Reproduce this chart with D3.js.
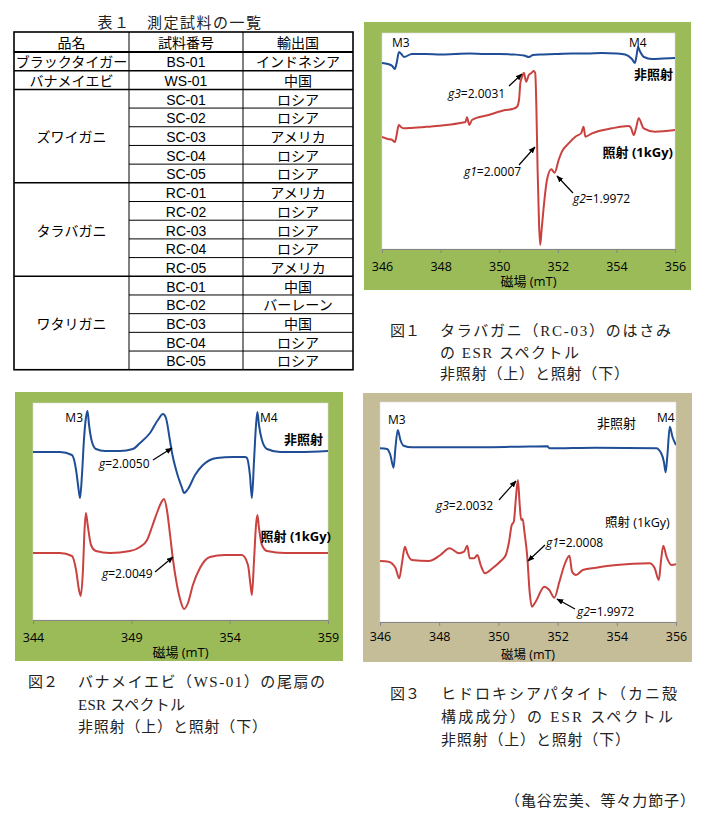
<!DOCTYPE html>
<html><head><meta charset="utf-8">
<script src="https://cdn.jsdelivr.net/npm/d3@7"></script>
<style>body{margin:0;background:#fff} svg{display:block}</style>
</head><body>
<svg id="c" width="705" height="815"></svg>
<script>
// ---------------- DATA ----------------
const tableTitle = "表１　測定試料の一覧";
const tableHeaders = ["品名", "試料番号", "輸出国"];
const productNames = ["ブラックタイガー", "バナメイエビ", "ズワイガニ", "タラバガニ", "ワタリガニ"];
const productRowSpans = [1, 1, 5, 5, 5];
const sampleIds = ["BS-01","WS-01","SC-01","SC-02","SC-03","SC-04","SC-05","RC-01","RC-02","RC-03","RC-04","RC-05","BC-01","BC-02","BC-03","BC-04","BC-05"];
const countries = ["インドネシア","中国","ロシア","ロシア","アメリカ","ロシア","ロシア","アメリカ","ロシア","ロシア","ロシア","アメリカ","中国","バーレーン","中国","ロシア","ロシア"];

// Fig.1 タラバガニ (RC-03) — [magnetic field mT, ESR signal a.u.]
const fig1Ticks = [346, 348, 350, 352, 354, 356];
const fig1Unirradiated = [[346.00,186],[346.20,185],[346.35,183],[346.44,180],[346.50,186],[346.58,197],[346.66,195],[346.75,192],[347.02,195],[347.50,195],[348.00,194.5],[348.50,195],[349.00,195.5],[349.50,195],[350.00,195],[350.50,194.5],[350.85,193.5],[351.02,192],[351.15,194],[351.50,194.5],[352.00,195],[352.50,195.5],[353.00,195.5],[353.50,196],[354.00,195.5],[354.30,194.5],[354.53,190],[354.63,186],[354.68,192],[354.74,202],[354.80,198],[354.94,192],[355.21,190],[355.60,190.5],[356.00,191]];
const fig1Irradiated = [[346.00,112],[346.20,110],[346.35,109],[346.44,107],[346.50,114],[346.57,124],[346.65,122],[346.74,120.7],[347.00,121],[347.59,122.3],[348.20,124],[348.73,126.3],[348.85,127],[348.90,131.7],[348.98,124],[349.07,129],[349.64,134],[350.21,139],[350.45,140],[350.61,142.3],[350.68,150],[350.72,165.7],[350.78,172],[350.84,176.3],[350.92,167.3],[351.01,174],[351.10,176],[351.18,178],[351.23,176],[351.27,140],[351.31,80],[351.36,25],[351.40,4],[351.45,20],[351.52,42.3],[351.63,69],[351.78,79.7],[351.89,76.3],[352.03,89],[352.14,97.3],[352.37,105.7],[352.60,112.3],[352.80,116],[352.88,122.3],[352.94,112.3],[353.17,115.7],[353.85,120.7],[354.42,123],[354.50,121],[354.59,114],[354.68,122],[354.76,130.7],[354.93,120.7],[355.32,117.3],[356.00,119]];

// Fig.2 バナメイエビ (WS-01)
const fig2Ticks = [344, 349, 354, 359];
const fig2Unirradiated = [[344.00,168],[345.37,168],[345.98,165],[346.19,150],[346.29,135],[346.39,122],[346.49,145],[346.59,180],[346.69,202],[346.77,209],[346.85,195],[347.00,178],[347.20,171],[347.66,169],[348.42,169],[349.08,171],[349.44,177],[349.95,187],[350.35,200],[350.61,206],[350.76,202],[350.96,180],[351.07,167],[351.32,147],[351.58,132],[351.68,127],[351.88,131],[352.24,145],[352.64,155],[353.35,162],[354.17,163],[354.78,163],[354.88,162],[355.03,145],[355.13,122],[355.24,160],[355.34,195],[355.41,208],[355.49,195],[355.64,180],[355.90,171],[356.56,168],[357.58,168],[359.00,169]];
const fig2Irradiated = [[344.00,67],[345.37,67],[345.98,64],[346.19,50],[346.34,30],[346.43,24],[346.54,50],[346.62,90],[346.69,107],[346.78,95],[346.95,75],[347.20,69],[347.91,67],[348.93,69],[349.44,73],[349.80,80],[350.05,93],[350.30,107],[350.51,117],[350.66,121],[350.81,110],[350.97,85],[351.12,60],[351.32,35],[351.52,18],[351.68,11],[351.88,17],[352.13,35],[352.49,52],[353.00,63],[353.76,65],[354.62,65],[354.93,55],[355.06,35],[355.13,25],[355.24,60],[355.34,95],[355.41,105],[355.49,92],[355.64,75],[355.90,69],[356.81,67],[359.00,67]];

// Fig.3 ヒドロキシアパタイト
const fig3Ticks = [346, 348, 350, 352, 354, 356];
const fig3Unirradiated = [[346.00,173.7],[346.24,173],[346.35,167],[346.46,154.3],[346.52,173.7],[346.60,192],[346.69,182],[346.80,176.3],[347.08,174.7],[348.78,174.7],[350.70,175.3],[351.66,175.7],[351.72,173.7],[353.30,174.3],[355.33,173.7],[355.50,168.7],[355.59,160.3],[355.65,149.7],[355.71,167],[355.79,195.3],[355.88,185.3],[356.00,177]];
const fig3Irradiated = [[346.00,61],[346.29,60.3],[346.52,54.3],[346.65,43.7],[346.75,60.3],[346.84,75.3],[346.92,68.7],[347.08,62],[347.65,61],[348.04,67],[348.35,73.7],[348.67,68.7],[348.84,70.3],[348.95,76.3],[349.03,63.7],[349.18,63.7],[349.29,67],[349.40,57],[349.55,48.7],[349.80,53.7],[350.08,61],[350.25,67],[350.36,80.3],[350.45,97],[350.52,100.3],[350.60,127],[350.66,142],[350.72,117],[350.77,102],[350.82,103],[350.88,90],[350.98,63.7],[351.05,32],[351.13,15.3],[351.26,20.3],[351.55,35.3],[351.72,32],[351.89,24.3],[352.06,40.3],[352.23,57],[352.40,66.3],[352.49,50.3],[352.62,47],[352.85,52],[353.30,54.3],[353.98,57],[355.11,58.7],[355.28,53.7],[355.42,42],[355.49,60.3],[355.57,76.3],[355.68,65.3],[355.85,57],[356.00,57.7]];

const axisTitle = "磁場 (mT)";
const fig1Caption = ["図１", "タラバガニ（RC-03）のはさみ", "の ESR スペクトル", "非照射（上）と照射（下）"];
const fig2Caption = ["図２", "バナメイエビ（WS-01）の尾扇の", "ESR スペクトル", "非照射（上）と照射（下）"];
const fig3Caption = ["図３", "ヒドロキシアパタイト（カニ殻", "構成成分）の ESR スペクトル", "非照射（上）と照射（下）"];
const credit = "（亀谷宏美、等々力節子）";

// ---------------- DRAW ----------------
const svg = d3.select("#c");
const SANS = "'Liberation Sans', 'Noto Sans CJK JP', sans-serif";
const CHART_FONT = "'Open Sans', 'Noto Sans CJK JP', sans-serif";
const SERIF = "'Liberation Serif', 'Noto Sans CJK JP', serif";
const BLUE = "#1f4e96", RED = "#c9423f";

const defs = svg.append("defs");
defs.append("marker").attr("id", "arrow").attr("viewBox", "0 0 10 10")
  .attr("refX", 9).attr("refY", 5).attr("markerWidth", 7).attr("markerHeight", 7)
  .attr("markerUnits", "userSpaceOnUse").attr("orient", "auto")
  .append("path").attr("d", "M0,1 L10,5 L0,9 Z").attr("fill", "#000");

// ---- Table ----
(function drawTable() {
  const colX = [14, 129, 243, 353];
  const top = 32, headH = 20, rowH = 18.69;
  const nRows = sampleIds.length;
  const bottom = top + headH + nRows * rowH;
  const g = svg.append("g");
  g.append("text").attr("x", 180).attr("y", 23).attr("text-anchor", "middle")
    .attr("dominant-baseline", "central").attr("font-family", SERIF).attr("font-size", 15)
    .attr("letter-spacing", 1.5).attr("fill", "#222").text(tableTitle);
  tableHeaders.forEach((h, i) => {
    g.append("text").attr("x", (colX[i] + colX[i + 1]) / 2).attr("y", top + headH / 2 + 1)
      .attr("text-anchor", "middle").attr("dominant-baseline", "central")
      .attr("font-family", SANS).attr("font-size", 14).text(h);
  });
  const rowY = i => top + headH + i * rowH;
  sampleIds.forEach((s, i) => {
    g.append("text").attr("x", (colX[1] + colX[2]) / 2).attr("y", rowY(i) + rowH / 2 + 1)
      .attr("text-anchor", "middle").attr("dominant-baseline", "central")
      .attr("font-family", SANS).attr("font-size", 14).text(s);
    g.append("text").attr("x", (colX[2] + colX[3]) / 2).attr("y", rowY(i) + rowH / 2 + 1)
      .attr("text-anchor", "middle").attr("dominant-baseline", "central")
      .attr("font-family", SANS).attr("font-size", 14).text(countries[i]);
  });
  let start = 0;
  const groupBounds = [];
  productNames.forEach((p, k) => {
    const span = productRowSpans[k];
    g.append("text").attr("x", (colX[0] + colX[1]) / 2).attr("y", rowY(start) + span * rowH / 2 + 1)
      .attr("text-anchor", "middle").attr("dominant-baseline", "central")
      .attr("font-family", SANS).attr("font-size", 14).text(p);
    start += span;
    groupBounds.push(start);
  });
  for (let i = 1; i < nRows; i++) {
    const full = groupBounds.includes(i);
    g.append("line").attr("x1", full ? colX[0] : colX[1]).attr("x2", colX[3])
      .attr("y1", rowY(i)).attr("y2", rowY(i)).attr("stroke", "#000")
      .attr("stroke-width", full ? 1.5 : 1);
  }
  g.append("line").attr("x1", colX[0]).attr("x2", colX[3]).attr("y1", top + headH).attr("y2", top + headH)
    .attr("stroke", "#000").attr("stroke-width", 2);
  [1, 2].forEach(c => g.append("line").attr("x1", colX[c]).attr("x2", colX[c]).attr("y1", top).attr("y2", bottom)
    .attr("stroke", "#000").attr("stroke-width", 1));
  g.append("rect").attr("x", colX[0]).attr("y", top).attr("width", colX[3] - colX[0]).attr("height", bottom - top)
    .attr("fill", "none").attr("stroke", "#000").attr("stroke-width", 1.6);
})();

// ---- Spectrum charts ----
let clipId = 0;
function drawSpectrum(o) {
  const g = svg.append("g");
  const [fl, ft, fr, fb] = o.frame;
  g.append("rect").attr("x", fl).attr("y", ft).attr("width", fr - fl).attr("height", fb - ft).attr("fill", o.frameColor);
  const [l, t, r, b] = o.plot;
  g.append("rect").attr("x", l).attr("y", t).attr("width", r - l).attr("height", b - t)
    .attr("fill", "#fff").attr("stroke", "#d9d9d9").attr("stroke-width", 0.6);
  const x = d3.scaleLinear().domain(o.xDomain).range([l, r]);
  const y = d3.scaleLinear().domain(o.yDomain).range([b, t]);
  const ax = g.append("g").attr("transform", `translate(0,${b})`)
    .call(d3.axisBottom(x).tickValues(o.ticks).tickSize(4).tickPadding(o.tickPad || 9).tickFormat(d3.format("d")));
  ax.select(".domain").attr("stroke", "#868686");
  ax.selectAll(".tick line").attr("stroke", "#868686");
  ax.selectAll(".tick text").attr("font-family", CHART_FONT).attr("font-size", 12.5).attr("fill", "#000");
  g.append("text").attr("x", (l + r) / 2).attr("y", o.titleY).attr("text-anchor", "middle")
    .attr("dominant-baseline", "central").attr("font-family", CHART_FONT).attr("font-size", o.titleSize || 13)
    .text(axisTitle);
  const id = "clip" + (clipId++);
  defs.append("clipPath").attr("id", id).append("rect").attr("x", l).attr("y", t - 10).attr("width", r - l).attr("height", b - t + 10);
  const line = d3.line().x(d => x(d[0])).y(d => y(d[1])).curve(d3.curveMonotoneX);
  const lg = g.append("g").attr("clip-path", `url(#${id})`);
  lg.append("path").datum(o.top).attr("d", line).attr("fill", "none").attr("stroke", BLUE).attr("stroke-width", 2).attr("stroke-linejoin", "round");
  lg.append("path").datum(o.bottom).attr("d", line).attr("fill", "none").attr("stroke", RED).attr("stroke-width", 2).attr("stroke-linejoin", "round");
  return g;
}

function label(g, parts, xx, yy, anchor, bold, size) {
  const t = g.append("text").attr("x", xx).attr("y", yy).attr("text-anchor", anchor || "start")
    .attr("dominant-baseline", "central").attr("font-family", CHART_FONT)
    .attr("font-size", size || 12).attr("font-weight", bold ? "bold" : "normal");
  (Array.isArray(parts) ? parts : [[parts, false]]).forEach(p => {
    t.append("tspan").attr("font-style", p[1] ? "italic" : "normal").text(p[0]);
  });
}
function arrow(g, x1, y1, x2, y2) {
  g.append("line").attr("x1", x1).attr("y1", y1).attr("x2", x2).attr("y2", y2)
    .attr("stroke", "#000").attr("stroke-width", 1.2).attr("marker-end", "url(#arrow)");
}

// Fig 1
const g1 = drawSpectrum({ frame: [364, 22, 691, 290], frameColor: "#9bbb59", plot: [382, 33, 675, 249],
  xDomain: [346, 356], yDomain: [0, 216], ticks: fig1Ticks, titleY: 281,
  top: fig1Unirradiated, bottom: fig1Irradiated });
label(g1, "M3", 392, 42);
label(g1, "M4", 629, 42);
label(g1, "非照射", 673, 74, "end", true, 13);
label(g1, [["g3", true], ["=2.0031", false]], 448, 93);
arrow(g1, 509, 86, 522, 74);
label(g1, "照射 (1kGy)", 673, 152, "end", true, 13);
label(g1, [["g1", true], ["=2.0007", false]], 464, 171);
arrow(g1, 519, 165, 535, 147);
label(g1, [["g2", true], ["=1.9972", false]], 573, 198);
arrow(g1, 573, 193, 557, 176);

// Fig 2
const g2 = drawSpectrum({ frame: [15, 392, 343, 661], frameColor: "#9bbb59", plot: [33, 403, 328, 620],
  xDomain: [344, 359], yDomain: [0, 217], ticks: fig2Ticks, titleY: 652,
  top: fig2Unirradiated, bottom: fig2Irradiated });
label(g2, "M3", 83, 417, "end");
label(g2, "M4", 260, 417);
label(g2, "非照射", 323, 439, "end", true, 13);
label(g2, [["g", true], ["=2.0050", false]], 99, 463);
arrow(g2, 153, 460, 172, 448);
label(g2, "照射 (1kGy)", 331, 536, "end", true, 13);
label(g2, [["g", true], ["=2.0049", false]], 102, 573);
arrow(g2, 155, 572, 173, 557);

// Fig 3
const g3 = drawSpectrum({ frame: [363, 393, 692, 662], frameColor: "#c4bd97", plot: [380, 402, 676, 622],
  xDomain: [346, 356], yDomain: [0, 220], ticks: fig3Ticks, titleY: 654.5, titleSize: 12.5, tickPad: 6,
  top: fig3Unirradiated, bottom: fig3Irradiated });
label(g3, "M3", 388, 419);
label(g3, "M4", 657, 417);
label(g3, "非照射", 597, 423, "start", false, 13);
label(g3, [["g3", true], ["=2.0032", false]], 436, 505);
arrow(g3, 499, 500, 516, 481);
label(g3, "照射 (1kGy)", 605, 522, "start", false, 12.5);
label(g3, [["g1", true], ["=2.0008", false]], 546, 542);
arrow(g3, 545, 545, 528, 561);
label(g3, [["g2", true], ["=1.9972", false]], 577, 611);
arrow(g3, 575, 609, 557, 599);

// ---- Captions ----
function caption(cap, numX, textX, ys, widths) {
  const g = svg.append("g").attr("font-family", SERIF).attr("font-size", 15).attr("fill", "#222");
  g.append("text").attr("x", numX).attr("y", ys[0]).attr("dominant-baseline", "central").text(cap[0]);
  for (let i = 1; i < cap.length; i++) {
    g.append("text").attr("x", textX).attr("y", ys[i - 1]).attr("dominant-baseline", "central")
      .attr("textLength", widths[i - 1]).attr("lengthAdjust", "spacing").text(cap[i]);
  }
}
caption(fig1Caption, 390, 440, [331, 353, 374], [231, 139, 189]);
caption(fig2Caption, 28, 78, [682, 705, 727], [247, 107, 189]);
caption(fig3Caption, 390, 441, [694, 717, 740], [236, 232, 189]);
svg.append("text").attr("x", 505).attr("y", 801).attr("dominant-baseline", "central")
  .attr("font-family", SERIF).attr("font-size", 15).attr("fill", "#222")
  .attr("textLength", 190).attr("lengthAdjust", "spacing").text(credit);
</script>
</body></html>
